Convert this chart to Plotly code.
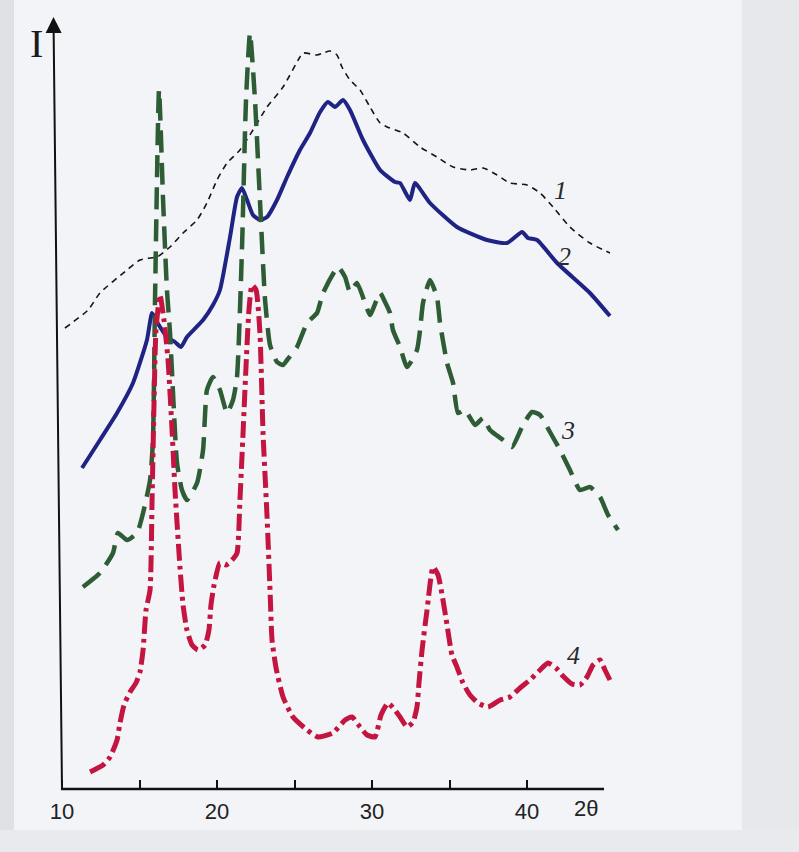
import plotly.graph_objects as go

# ---------------- data (2θ in degrees, intensity in arbitrary units) ----------------
x1 = [10.19, 11.68, 12.45, 14.19, 15.03, 15.68, 16.13, 16.97, 17.81, 18.71, 19.35, 20.0, 20.65,
      21.48, 22.32, 23.23, 24.26, 25.35, 25.55, 26.45, 26.84, 27.29, 27.74, 28.06, 28.58, 29.23,
      29.87, 30.52, 30.97, 32.0, 33.1, 34.19, 35.23, 36.32, 37.16, 38.06, 38.9, 40.0, 40.84,
      41.68, 42.77, 44.06, 45.35]
y1 = [46.2, 48.0, 49.7, 52.0, 53.0, 53.2, 53.3, 54.3, 55.7, 57.0, 58.7, 61.0, 62.7,
      64.0, 66.0, 68.3, 70.3, 73.3, 73.7, 73.5, 73.7, 73.9, 73.5, 72.3, 71.0, 70.0,
      68.3, 66.7, 66.3, 65.7, 64.3, 63.3, 62.3, 62.0, 62.2, 61.5, 60.7, 60.5, 59.7,
      58.3, 56.3, 54.7, 53.7]

x2 = [11.29, 12.45, 13.55, 14.58, 15.48, 15.81, 16.13, 16.77, 17.29, 17.68, 18.06, 19.1, 19.74,
      20.19, 20.84, 21.29, 21.61, 21.94, 22.32, 22.77, 23.23, 23.87, 24.52, 25.35, 26.0, 26.65,
      27.16, 27.61, 28.13, 28.58, 29.42, 30.52, 31.48, 31.81, 32.45, 32.77, 33.74, 35.48, 37.42,
      38.71, 39.68, 40.06, 40.65, 41.94, 44.06, 45.35]
y2 = [32.2, 35.0, 37.7, 40.7, 45.0, 47.7, 46.8, 45.3, 44.8, 44.3, 45.3, 47.0, 48.5,
      50.0, 55.3, 59.3, 60.2, 59.0, 57.5, 57.0, 57.3, 59.0, 61.3, 64.0, 65.7, 67.8,
      68.8, 68.3, 69.0, 68.0, 65.0, 62.0, 60.8, 60.7, 59.0, 60.7, 58.7, 56.3, 55.0,
      54.7, 55.8, 55.2, 55.0, 52.7, 49.7, 47.4]

x3 = [11.35, 12.45, 13.29, 13.61, 14.19, 14.84, 15.23, 15.68, 15.87, 16.0, 16.26, 16.52, 16.77,
      16.97, 17.42, 17.74, 18.06, 18.71, 19.1, 19.35, 19.74, 20.19, 20.65, 21.03, 21.29, 21.61,
      21.87, 22.13, 22.45, 22.77, 23.1, 23.42, 23.87, 24.26, 24.52, 25.16, 25.81, 26.45, 26.84,
      27.81, 28.26, 28.58, 29.03, 29.55, 29.87, 30.52, 30.84, 31.16, 31.35, 31.81, 32.26, 32.9,
      33.1, 33.29, 33.74, 34.19, 34.39, 34.84, 35.23, 35.55, 36.0, 36.65, 37.16, 37.61, 38.45,
      39.03, 39.74, 40.32, 40.84, 41.48, 42.13, 42.77, 43.42, 44.06, 44.71, 45.23, 45.87]
y3 = [20.3, 21.7, 23.7, 25.7, 25.0, 25.7, 27.7, 31.0, 35.0, 49.0, 70.0, 59.0, 50.0,
      45.7, 32.7, 30.0, 29.0, 30.7, 34.0, 40.0, 41.3, 40.0, 37.7, 39.0, 41.3, 54.0,
      69.0, 75.7, 69.0, 59.0, 49.0, 44.5, 42.8, 42.5, 43.0, 44.3, 46.7, 47.7, 49.7,
      52.3, 51.3, 49.8, 50.7, 48.7, 47.5, 49.7, 48.8, 47.7, 46.0, 44.3, 42.3, 44.0,
      46.0, 48.7, 51.0, 49.3, 46.7, 42.7, 40.7, 37.7, 38.0, 36.5, 37.2, 36.0, 35.0,
      34.3, 36.5, 37.8, 37.5, 35.8, 34.0, 32.0, 30.0, 30.3, 29.3, 27.5, 26.0]

x4 = [11.81, 12.65, 13.1, 13.55, 13.74, 14.0, 14.39, 14.77, 15.03, 15.23, 15.42, 15.68, 15.81,
      15.94, 16.06, 16.32, 16.58, 16.84, 17.1, 17.29, 17.61, 17.81, 18.06, 18.39, 18.77, 19.23,
      19.48, 19.61, 19.81, 20.19, 20.58, 20.97, 21.29, 21.48, 21.68, 21.87, 22.06, 22.26, 22.52,
      22.77, 22.97, 23.23, 23.42, 23.55, 23.81, 24.26, 24.9, 25.81, 26.52, 27.48, 28.26, 28.71,
      29.23, 29.68, 30.19, 30.58, 31.03, 31.48, 31.81, 32.26, 32.65, 32.9, 33.03, 33.23, 33.55,
      33.94, 34.26, 34.58, 34.84, 35.16, 35.48, 35.87, 36.32, 36.84, 37.48, 38.26, 38.9, 39.55,
      40.19, 40.84, 41.35, 41.87, 42.32, 42.9, 43.42, 43.87, 44.26, 44.71, 45.03, 45.35]
y4 = [1.8, 2.5, 3.3, 5.0, 6.7, 8.5, 9.8, 10.7, 11.8, 14.0, 18.0, 20.0, 29.0,
      39.0, 46.0, 49.5, 47.0, 43.0, 36.0, 30.0, 22.3, 18.5, 16.0, 14.5, 14.0, 14.5,
      16.0, 18.5, 20.5, 22.7, 22.5, 23.0, 23.7, 29.0, 35.7, 42.3, 48.0, 50.5, 50.0,
      45.7, 35.7, 27.3, 20.0, 15.0, 12.2, 9.3, 7.3, 6.0, 5.3, 5.7, 7.0, 7.3,
      6.3, 5.5, 5.3, 7.5, 8.7, 8.0, 7.3, 6.3, 6.8, 8.3, 10.7, 14.0, 18.0,
      22.3, 21.5, 19.0, 16.5, 13.5, 12.3, 10.7, 9.5, 8.7, 8.3, 9.0, 9.3, 10.2,
      11.0, 12.0, 12.7, 12.2, 11.4, 10.6, 10.5, 11.3, 12.5, 13.0, 12.0, 11.0]

tick_vals = [10, 15, 20, 25, 30, 35, 40]
tick_text = ["10", "", "20", "", "30", "", "40"]
curve_labels = ["1", "2", "3", "4"]
label_x = [42.13, 42.45, 42.65, 42.97]
label_y = [60.0, 53.4, 36.0, 13.5]

# ---------------- layout geometry ----------------
W, H = 799, 852
L, R, T, B = 51, 171, 17, 62
PXU = 15.5                      # pixels per degree
X0 = 9.29
X1 = X0 + (W - L - R) / PXU
Y1 = 77.3

def px_x(px):
    return (px - L) / (W - L - R)

def px_y(py):
    return (H - B - py) / (H - T - B)

fig = go.Figure()

fig.add_trace(go.Scatter(x=x1, y=y1, mode="lines", name="1",
                         line=dict(color="#151515", width=1.6, dash="6px,5px", shape="spline", smoothing=0.6)))
fig.add_trace(go.Scatter(x=x2, y=y2, mode="lines", name="2",
                         line=dict(color="#1f2484", width=4, shape="spline", smoothing=0.5)))
fig.add_trace(go.Scatter(x=x3, y=y3, mode="lines", name="3",
                         line=dict(color="#2d5c35", width=4.5, dash="22px,10px", shape="spline", smoothing=0.5)))
fig.add_trace(go.Scatter(x=x4, y=y4, mode="lines", name="4",
                         line=dict(color="#c41440", width=5, dash="17px,5px,4px,5px", shape="spline", smoothing=0.5)))

annotations = []
# y axis with arrow
annotations.append(dict(x=9.45, y=Y1, ax=10, ay=0, xref="x", yref="y", axref="x", ayref="y",
                        text="", showarrow=True, arrowhead=2, arrowsize=1.6, arrowwidth=2,
                        arrowcolor="#111111", standoff=0, startstandoff=0))
annotations.append(dict(x=px_x(36), y=px_y(43), xref="paper", yref="paper", text="I",
                        xanchor="center", yanchor="middle", showarrow=False,
                        font=dict(family="Liberation Serif", size=40, color="#1a1a1a")))
annotations.append(dict(x=43.8, y=px_y(808), xref="x", yref="paper", text="2θ",
                        xanchor="center", yanchor="middle", showarrow=False,
                        font=dict(family="Liberation Sans", size=22, color="#222222")))
for t, lx, ly in zip(curve_labels, label_x, label_y):
    annotations.append(dict(x=lx, y=ly, xref="x", yref="y", text="<i>" + t + "</i>", showarrow=False,
                            xanchor="center", yanchor="middle",
                            font=dict(family="Liberation Serif", size=26, color="#2a2a2a")))

shapes = [
    # grey scanned-paper edges
    dict(type="rect", xref="paper", yref="paper", x0=px_x(0), x1=px_x(14), y0=px_y(H), y1=px_y(0),
         fillcolor="#dfe1e5", line=dict(width=0), layer="below"),
    dict(type="rect", xref="paper", yref="paper", x0=px_x(742), x1=px_x(W), y0=px_y(H), y1=px_y(0),
         fillcolor="#e6e8ec", line=dict(width=0), layer="below"),
    dict(type="rect", xref="paper", yref="paper", x0=px_x(0), x1=px_x(W), y0=px_y(H), y1=px_y(830),
         fillcolor="#e8eaee", line=dict(width=0), layer="below"),
    # x axis line
    dict(type="line", xref="x", yref="paper", x0=9.93, x1=44.97, y0=px_y(789), y1=px_y(789),
         line=dict(color="#111111", width=2.5)),
]

fig.update_layout(
    width=W, height=H,
    margin=dict(l=L, r=R, t=T, b=B, pad=0),
    paper_bgcolor="#f3f4f8",
    plot_bgcolor="rgba(0,0,0,0)",
    showlegend=False,
    annotations=annotations,
    shapes=shapes,
    xaxis=dict(range=[X0, X1], showgrid=False, zeroline=False, showline=False,
               tickmode="array", tickvals=tick_vals, ticktext=tick_text,
               ticks="inside", ticklen=10, tickwidth=2, tickcolor="#111111",
               tickfont=dict(family="Liberation Sans", size=22, color="#222222"),
               ticklabelstandoff=6),
    yaxis=dict(range=[0, Y1], showgrid=False, zeroline=False, showline=False,
               showticklabels=False, ticks=""),
)

fig.write_html("out.html", config={"displayModeBar": False},
               post_script="document.body.style.margin='0';")
